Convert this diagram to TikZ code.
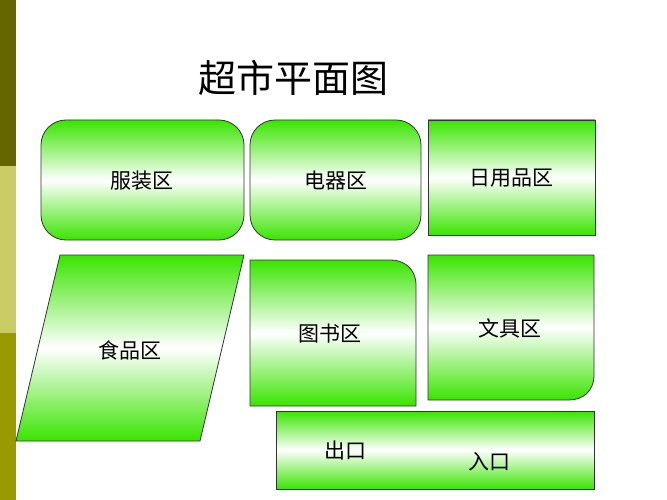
\documentclass[tikz,border=0pt]{standalone}
\usepackage{fontspec}
\newfontfamily\cjk{Noto Sans CJK SC}
\begin{document}
\begin{tikzpicture}[x=1pt,y=-1pt,
  zone/.style={draw=black!80,line width=0.8pt,top color=green!85!black!70!lime,bottom color=green!85!black!70!lime,middle color=white},
  lbl/.style={font=\cjk\fontsize{21}{24}\selectfont}]
\useasboundingbox (0,0) rectangle (667,500);
\fill[white] (0,0) rectangle (667,500);
\fill[fill={rgb,255:red,102;green,102;blue,0}] (0,0) rectangle (16,166);
\fill[fill={rgb,255:red,204;green,204;blue,102}] (0,166) rectangle (16,333);
\fill[fill={rgb,255:red,153;green,153;blue,0}] (0,333) rectangle (16,500);
\node[font=\cjk\fontsize{38}{44}\selectfont] (title) at (293,78) {超市平面图};
\path[zone,rounded corners=25] (41,120) rectangle (244,240);
\node[lbl] (a) at (142,181) {服装区};
\path[zone,rounded corners=25] (250,120) rectangle (421,240);
\node[lbl] (b) at (336,181) {电器区};
\path[zone] (428,120) rectangle (595,235);
\node[lbl] (c) at (511,178) {日用品区};
\path[zone] (60,255) -- (244,255) -- (200,441) -- (16,441) -- cycle;
\node[lbl] (d) at (130,350) {食品区};
\path[zone] (250,406) -- (250,260) -- (391,260) .. controls (403,260) and (416,268) .. (416,285) -- (416,406) -- cycle;
\node[lbl] (e) at (330,334) {图书区};
\path[zone] (428,400) -- (428,255) -- (594,255) -- (594,375) .. controls (594,392) and (582,400) .. (569,400) -- cycle;
\node[lbl] (f) at (510,328) {文具区};
\path[zone] (276,411) rectangle (594,489);
\node[lbl] (g) at (345,451) {出口};
\node[lbl] (h) at (489,462) {入口};
\end{tikzpicture}
\end{document}
